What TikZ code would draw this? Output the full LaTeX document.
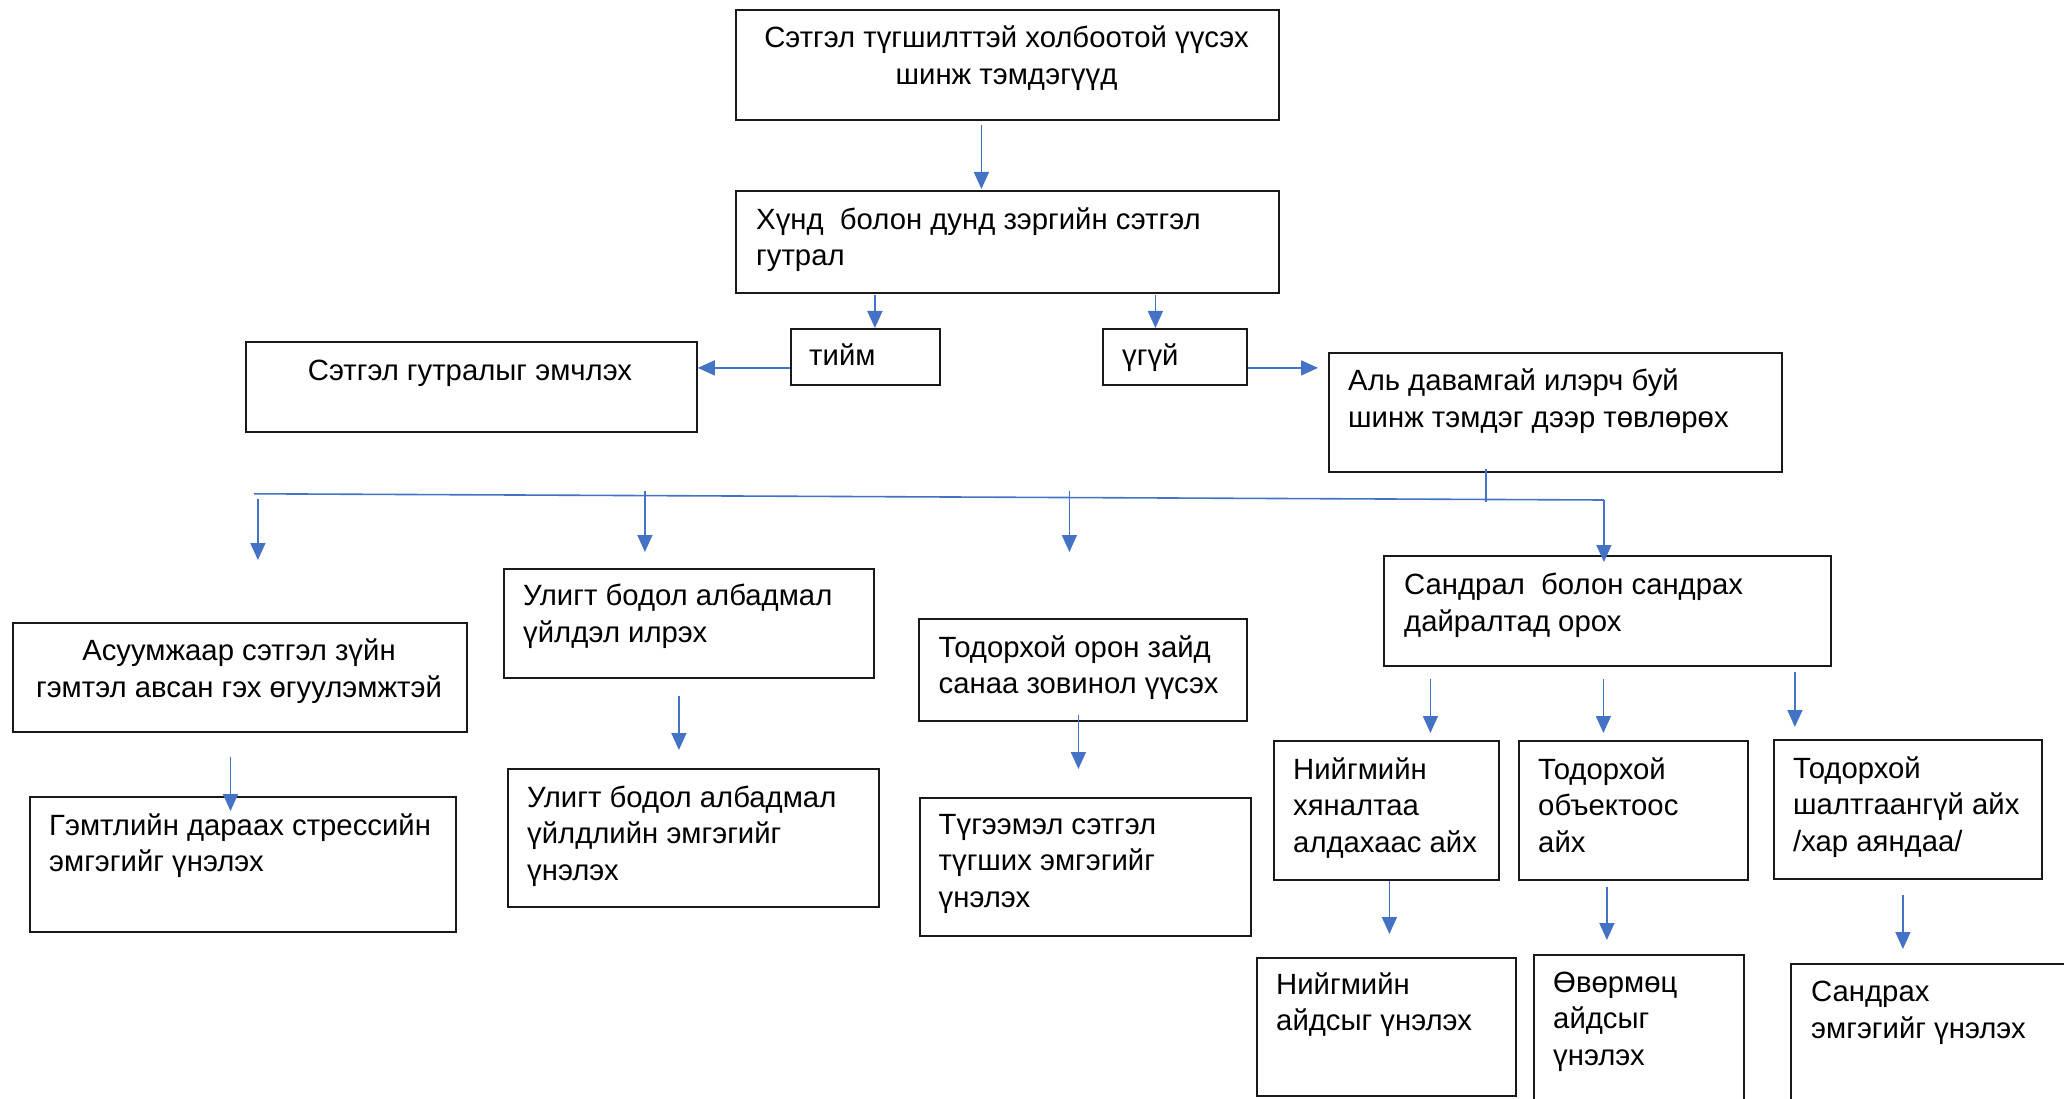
\documentclass[tikz,border=0pt]{standalone}
\usepackage{fontspec}
\setmainfont{Liberation Sans}
\usetikzlibrary{arrows.meta,calc}
\definecolor{conn}{HTML}{4472C4}
\begin{document}
\begin{tikzpicture}[x=1pt,y=-1pt,
  box/.style={draw=black!90, line width=1.8pt, rectangle, inner sep=0pt, anchor=north west},
  txt/.style={inner sep=0pt, align=left, font=\fontsize{29.3}{36.5}\selectfont, anchor=north west},
  ctxt/.style={txt, align=center, anchor=north},
  arr/.style={draw=conn, line width=1.6pt, -{Triangle[length=17pt,width=15pt]}},
  ln/.style={draw=conn, line width=1.6pt}]
\useasboundingbox (0,0) rectangle (2064,1099);
\clip (0,0) rectangle (2064,1099);
\fill[white] (0,0) rectangle (2064,1099);

% boxes
\node[box, minimum width=543pt, minimum height=110pt] (top) at (735,9) {};
\node[box, minimum width=543pt, minimum height=102pt] (mid) at (735,190) {};
\node[box, minimum width=149pt, minimum height=56pt] (yes) at (790,328) {};
\node[box, minimum width=144pt, minimum height=56pt] (no) at (1102,328) {};
\node[box, minimum width=451pt, minimum height=90pt] (treat) at (245,341) {};
\node[box, minimum width=453pt, minimum height=119pt] (focus) at (1328,352) {};
\node[box, minimum width=454pt, minimum height=109pt] (survey) at (12,622) {};
\node[box, minimum width=426pt, minimum height=135pt] (ptsd) at (29,796) {};
\node[box, minimum width=370pt, minimum height=109pt] (ocdA) at (503,568) {};
\node[box, minimum width=371pt, minimum height=138pt] (ocdB) at (507,768) {};
\node[box, minimum width=328pt, minimum height=102pt] (gadA) at (918,618) {};
\node[box, minimum width=331pt, minimum height=138pt] (gadB) at (919,797) {};
\node[box, minimum width=447pt, minimum height=110pt] (panic) at (1383,555) {};
\node[box, minimum width=225pt, minimum height=139pt] (socA) at (1273,740) {};
\node[box, minimum width=229pt, minimum height=139pt] (specA) at (1518,740) {};
\node[box, minimum width=268pt, minimum height=139pt] (unk) at (1773,739) {};
\node[box, minimum width=259pt, minimum height=138pt] (socB) at (1256,957) {};
\node[box, minimum width=210pt, minimum height=170pt] (specB) at (1533,954) {};
\node[box, minimum width=300pt, minimum height=170pt] (panicB) at (1790,963) {};

% texts
\node[ctxt] (ttop) at (1006.5,22) {\strut Сэтгэл түгшилттэй холбоотой үүсэх\\шинж тэмдэгүүд};
\node[txt] (tmid) at (756,203.5) {\strut Хүнд\ \ болон дунд зэргийн сэтгэл\\гутрал};
\node[txt] (tyes) at (809,340) {\strut тийм};
\node[txt] (tno) at (1122,340) {\strut үгүй};
\node[ctxt] (ttreat) at (470,355) {\strut Сэтгэл гутралыг эмчлэх};
\node[txt] (tfocus) at (1348,365) {\strut Аль давамгай илэрч буй\\шинж тэмдэг дээр төвлөрөх};
\node[ctxt] (tsurvey) at (239,635) {\strut Асуумжаар сэтгэл зүйн\\гэмтэл авсан гэх өгуулэмжтэй};
\node[txt] (tptsd) at (49,809.5) {\strut Гэмтлийн дараах стрессийн\\эмгэгийг үнэлэх};
\node[txt] (tocdA) at (523,580) {\strut Улигт бодол албадмал\\үйлдэл илрэх};
\node[txt] (tocdB) at (527,781.5) {\strut Улигт бодол албадмал\\үйлдлийн эмгэгийг\\үнэлэх};
\node[txt] (tgadA) at (938.5,631.5) {\strut Тодорхой орон зайд\\санаа зовинол үүсэх};
\node[txt] (tgadB) at (938.5,808.5) {\strut Түгээмэл сэтгэл\\түгших эмгэгийг\\үнэлэх};
\node[txt] (tpanic) at (1404,569) {\strut Сандрал\ \ болон сандрах\\дайралтад орох};
\node[txt] (tsocA) at (1293,753.5) {\strut Нийгмийн\\хяналтаа\\алдахаас айх};
\node[txt] (tspecA) at (1538,753.5) {\strut Тодорхой\\объектоос\\айх};
\node[txt] (tunk) at (1793,752.5) {\strut Тодорхой\\шалтгаангүй айх\\/хар аяндаа/};
\node[txt] (tsocB) at (1276,968.5) {\strut Нийгмийн\\айдсыг үнэлэх};
\node[txt] (tspecB) at (1553,966.5) {\strut Өвөрмөц\\айдсыг\\үнэлэх};
\node[txt] (tpanicB) at (1811,976) {\strut Сандрах\\эмгэгийг үнэлэх};

% connectors
\draw[arr] ($(top.south)+(-26,4)$) -- ($(top.south |- mid.north)+(-26,-1)$);
\draw[arr] ($(yes.north |- mid.south)+(9.5,1)$) -- ($(yes.north)+(9.5,0)$);
\draw[arr] ($(no.north |- mid.south)+(-19.5,1)$) -- ($(no.north)+(-19.5,0)$);
\draw[arr] ($(yes.west)+(0,11)$) -- ($(treat.east |- yes.west)+(0,11)$);
\draw[arr] ($(no.east)+(0,11)$) -- ($(focus.west |- no.east)+(-10,11)$);

\coordinate (busL) at ($(treat.south west)+(9,61)$);
\coordinate (busR) at ($(panic.north)+(-3.5,-55)$);
\draw[ln] ($(focus.south)+(-69.5,-4)$) -- ($(focus.south)+(-69.5,29)$);
\draw[ln] (busL) -- (busR);
\draw[arr] (busR) -- ($(panic.north)+(-3.5,7)$);
\draw[arr] ($(survey.north)+(18,-123)$) -- ($(survey.north)+(18,-62)$);
\draw[arr] ($(ocdA.north)+(-44,-77)$) -- ($(ocdA.north)+(-44,-16)$);
\draw[arr] ($(gadA.north)+(-13.5,-127)$) -- ($(gadA.north)+(-13.5,-66)$);

\draw[arr] ($(survey.south -| ptsd.north)+(-12.4,24)$) -- ($(ptsd.north)+(-12.4,15)$);
\draw[arr] ($(ocdA.south -| ocdB.north)+(-14.5,17)$) -- ($(ocdB.north)+(-14.5,-18)$);
\draw[arr] ($(gadA.south -| gadB.north)+(-7,-7)$) -- ($(gadB.north)+(-7,-28)$);

\draw[arr] ($(panic.south -| socA.north)+(44,12)$) -- ($(socA.north)+(44,-7)$);
\draw[arr] ($(panic.south -| specA.north)+(-30,12)$) -- ($(specA.north)+(-30,-7)$);
\draw[arr] ($(panic.south -| unk.north)+(-113,5)$) -- ($(unk.north)+(-113,-12)$);

\draw[arr] ($(socA.south -| socB.north)+(3,0)$) -- ($(socB.north)+(3,-23)$);
\draw[arr] ($(specA.south -| specB.north)+(-32,6)$) -- ($(specB.north)+(-32,-14)$);
\draw[arr] ($(unk.south)+(-5,15)$) -- ($(unk.south |- panicB.north)+(-5,-14)$);
\end{tikzpicture}
\end{document}
